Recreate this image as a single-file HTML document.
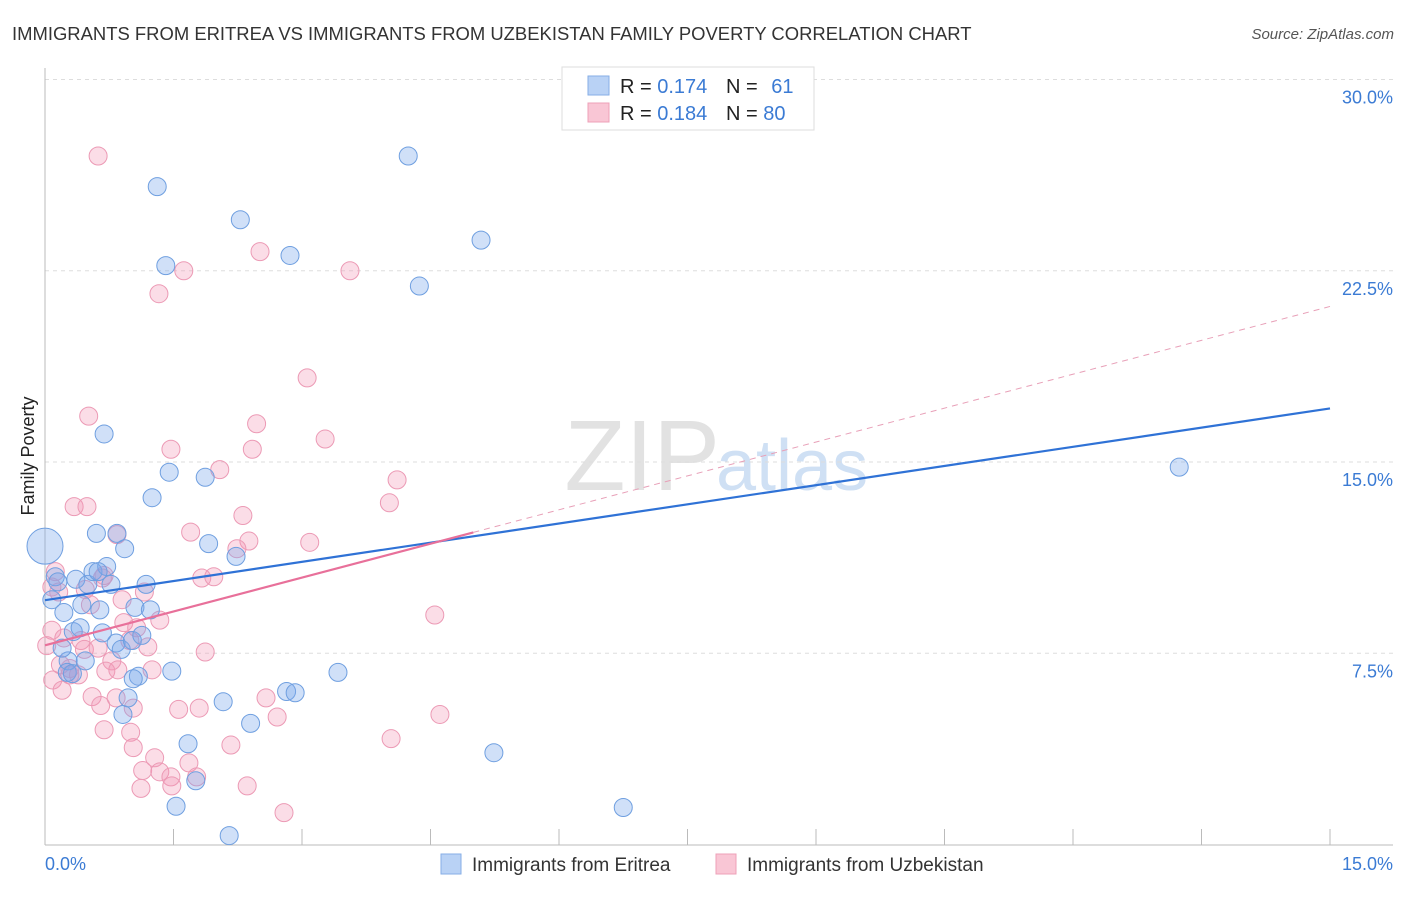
<!DOCTYPE html>
<html><head><meta charset="utf-8"><style>
body{margin:0;background:#fff;font-family:"Liberation Sans",sans-serif;}
svg text{font-family:"Liberation Sans",sans-serif;}
</style></head><body>
<svg id="c" width="1406" height="892" xmlns="http://www.w3.org/2000/svg">
<text x="12" y="40" font-size="18.45" fill="#333">IMMIGRANTS FROM ERITREA VS IMMIGRANTS FROM UZBEKISTAN FAMILY POVERTY CORRELATION CHART</text>
<text x="1394" y="39" font-size="15" fill="#555" font-style="italic" text-anchor="end">Source: ZipAtlas.com</text>
<text x="720" y="490" font-size="100" fill="#e2e2e2" text-anchor="end" font-family="Liberation Serif">ZIP</text>
<text x="716" y="490" font-size="72" fill="#cfe0f4">atlas</text>
<g id="grid"></g><g id="pts"></g><g id="lines"></g>
<text x="34" y="456" font-size="18" fill="#222" text-anchor="middle" transform="rotate(-90 34 456)">Family Poverty</text>
<text x="45" y="870" font-size="18" fill="#3b7bd4">0.0%</text>
<text x="1393" y="870" font-size="18" fill="#3b7bd4" text-anchor="end">15.0%</text>
<g>
<rect x="562" y="67" width="252" height="63" fill="#fff" stroke="#ddd"/>
<rect x="588" y="76" width="21" height="19" fill="#b9d2f5" stroke="#86aee6"/>
<rect x="588" y="103" width="21" height="19" fill="#f9c6d5" stroke="#eea0b8"/>
<text x="620" y="93" font-size="20" fill="#222">R = <tspan fill="#3b7bd4">0.174</tspan></text>
<text x="726" y="93" font-size="20" fill="#222">N = <tspan fill="#3b7bd4" dx="8">61</tspan></text>
<text x="620" y="120" font-size="20" fill="#222">R = <tspan fill="#3b7bd4">0.184</tspan></text>
<text x="726" y="120" font-size="20" fill="#222">N = <tspan fill="#3b7bd4">80</tspan></text>
</g>
<g>
<rect x="441" y="854" width="20" height="20" fill="#b9d2f5" stroke="#86aee6"/>
<text x="472" y="871" font-size="19" fill="#333">Immigrants from Eritrea</text>
<rect x="716" y="854" width="20" height="20" fill="#f9c6d5" stroke="#eea0b8"/>
<text x="747" y="871" font-size="19" fill="#333">Immigrants from Uzbekistan</text>
</g>
</svg>
<script>
const yTicks=[7.5,15,22.5,30];
const yTickLabels=["7.5%","15.0%","22.5%","30.0%"];
const xTicks=[0,1.5,3,4.5,6,7.5,9,10.5,12,13.5,15];
const blueX=[1.31,2.28,1.41,2.86,4.24,5.09,4.37,0.69,1.45,1.87,1.25,0.60,0.93,1.91,2.23,0.84,13.24,0,0.12,0.15,0.36,0.50,0.56,0.72,0.77,1.18,0.08,0.22,0.43,0.64,1.05,1.23,0.33,0.41,0.67,0.83,0.89,1.02,1.13,0.27,0.47,0.26,0.32,1.48,1.09,1.03,3.42,2.08,0.97,2.82,2.92,0.91,2.40,1.67,1.76,5.24,1.53,6.75,2.15,0.20,0.62];
const blueY=[25.8,24.5,22.7,23.1,27.0,23.7,21.9,16.1,14.6,14.4,13.6,12.2,11.6,11.8,11.3,12.2,14.8,11.7,10.5,10.3,10.4,10.2,10.7,10.9,10.2,10.2,9.6,9.1,9.4,9.2,9.3,9.2,8.35,8.5,8.3,7.9,7.65,8.0,8.2,7.2,7.2,6.75,6.7,6.8,6.6,6.5,6.75,5.6,5.75,6.0,5.95,5.1,4.75,3.95,2.5,3.6,1.5,1.45,0.35,7.7,10.7];
const pinkX=[0.62,2.51,1.62,3.56,1.33,3.06,0.51,2.47,3.27,1.47,2.42,2.04,4.11,0.34,0.49,4.02,2.31,1.70,0.84,3.09,2.38,2.24,0.12,0.67,1.83,1.97,1.16,0.08,4.55,1.34,0.92,1.07,0.08,0.22,0.42,0.99,0.46,0.62,1.20,0.78,0.18,0.29,0.39,0.71,0.85,1.87,1.25,0.09,0.20,0.55,0.83,2.58,0.65,1.03,1.56,1.80,2.71,4.61,0.69,1.00,2.17,4.04,1.03,1.28,1.14,1.34,1.47,1.68,1.77,1.12,1.48,2.36,2.79,0.29,0.02,0.53,0.69,0.90,0.16,0.47];
const pinkY=[27.0,23.25,22.5,22.5,21.6,18.3,16.8,16.5,15.9,15.5,15.5,14.7,14.3,13.25,13.25,13.4,12.9,12.25,12.15,11.85,11.9,11.6,10.7,10.45,10.45,10.5,9.9,10.1,9.0,8.8,8.7,8.5,8.4,8.1,8.0,8.0,7.65,7.7,7.75,7.2,7.05,6.9,6.65,6.8,6.85,7.55,6.85,6.45,6.05,5.8,5.75,5.75,5.45,5.35,5.3,5.35,5.0,5.1,4.5,4.4,3.9,4.15,3.8,3.4,2.9,2.85,2.65,3.2,2.65,2.2,2.3,2.3,1.25,6.65,7.8,9.4,10.55,9.6,9.9,10.0];
const blueTrend=[9.58,17.1];
const pinkTrend=[7.81,21.1];
const pinkSolidEnd=5.0;
const NS="http://www.w3.org/2000/svg";
const sx=v=>45+v*85.667, sy=v=>844.5-v*25.5;
function mk(tag,attrs,parent){const e=document.createElementNS(NS,tag);for(const k in attrs)e.setAttribute(k,attrs[k]);parent.appendChild(e);return e;}
const grid=document.getElementById('grid');
yTicks.forEach((t,i)=>{
 const l=mk('line',{x1:45,x2:1393,y1:sy(t),y2:sy(t),stroke:'#ddd','stroke-dasharray':'4,4'},grid);
 
 
 const tx=mk('text',{x:1393,y:sy(t)+24,'font-size':18,fill:'#3b7bd4','text-anchor':'end'},grid);
 tx.textContent=yTickLabels[i];
 
 
});
const ax=mk('line',{x1:45,x2:1393,y1:845,y2:845,stroke:'#bbb'},grid);


const ay=mk('line',{x1:45,x2:45,y1:68,y2:845,stroke:'#bbb'},grid);


xTicks.forEach(t=>{
 const l=mk('line',{x1:sx(t),x2:sx(t),y1:829,y2:845,stroke:'#bbb'},grid);
 
 
});
const pts=document.getElementById('pts');
function dots(X,Y,fill,stroke,name){
 X.forEach((x,i)=>{
  const r=(name==='point-eritrea'&&x===0&&Y[i]>11.5)?18:9;
  const c=mk('circle',{cx:sx(x),cy:sy(Y[i]),r:r,fill:fill,stroke:stroke,'stroke-width':1},pts);
  
  
 });
}
dots(pinkX,pinkY,'rgba(244,150,180,0.32)','#ec9ab5','point-uzbekistan');
dots(blueX,blueY,'rgba(120,165,235,0.35)','#6f9fe0','point-eritrea');
const lines=document.getElementById('lines');
const b=mk('line',{x1:sx(0),y1:sy(blueTrend[0]),x2:sx(15),y2:sy(blueTrend[1]),stroke:'#2f72d6','stroke-width':2.2},lines);


const pe=pinkTrend[0]+(pinkTrend[1]-pinkTrend[0])*pinkSolidEnd/15;
const p1=mk('line',{x1:sx(0),y1:sy(pinkTrend[0]),x2:sx(pinkSolidEnd),y2:sy(pe),stroke:'#e8709a','stroke-width':2.2},lines);


const p2=mk('line',{x1:sx(pinkSolidEnd),y1:sy(pe),x2:sx(15),y2:sy(pinkTrend[1]),stroke:'#e8a0b8','stroke-width':1,'stroke-dasharray':'6,5'},lines);


</script>
</body></html>
